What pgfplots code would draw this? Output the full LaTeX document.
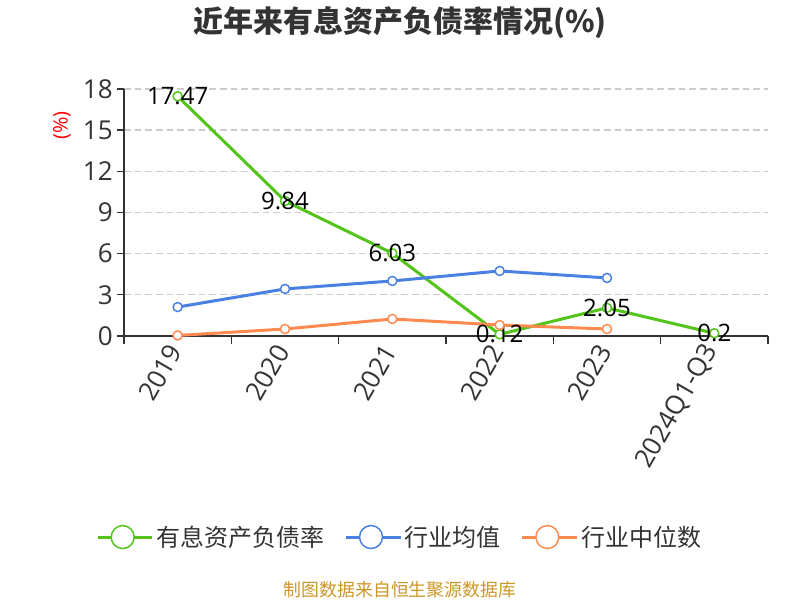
\documentclass[border=0pt]{standalone}
\usepackage{pgfplots}
\pgfplotsset{compat=1.18}
\usepackage{fontspec}
\setmainfont{Open Sans}
\newfontfamily\cjk{Noto Sans CJK SC}
\definecolor{cgreen}{RGB}{82,196,26}
\definecolor{cblue}{RGB}{74,128,226}
\definecolor{corange}{RGB}{255,138,80}
\definecolor{ctext}{RGB}{51,51,51}
\definecolor{cfoot}{RGB}{204,150,40}
\begin{document}
\begin{tikzpicture}
\useasboundingbox (0,0) rectangle (600pt,450pt);
\node[font=\cjk\bfseries\fontsize{22.5}{22.5}\selectfont, text=ctext] at (300pt,433pt) {近年来有息资产负债率情况(\%)};
\node[font=\fontsize{15}{15}\selectfont, text=red, rotate=90] at (46.5pt,356pt) {(\%)};
\node[font=\cjk\fontsize{13.4}{13.4}\selectfont, text=cfoot] at (300pt,7.5pt) {制图数据来自恒生聚源数据库};
\begin{axis}[
  at={(93pt,198pt)}, anchor=south west,
  scale only axis, width=483pt, height=185.25pt,
  xmin=-0.5, xmax=5.5, ymin=0, ymax=18,
  clip=false,
  axis lines=left,
  axis line style={-, draw=ctext, line width=1.1pt},
  xtick={0,...,5},
  xticklabels={2019,2020,2021,2022,2023,2024Q1-Q3},
  minor xtick={-0.5,0.5,...,5.5},
  xtick style={draw=none},
  minor x tick style={draw=ctext, line width=1pt},
  minor tick length=6pt,
  ytick={0,3,...,18},
  y tick style={draw=ctext, line width=1pt},
  major tick length=5pt,
  tick align=outside,
  ymajorgrids,
  major grid style={dash pattern=on 5pt off 3pt, draw=black!20, line width=1pt},
  /pgf/number format/assume math mode=true,
  ticklabel style={font=\fontsize{19.5}{19.5}\selectfont, text=ctext},
  xticklabel style={rotate=60, anchor=east},
  legend style={at={(axis description cs:0.4286,-0.814)}, anchor=center, draw=none, fill=none,
    legend columns=3, font=\cjk\fontsize{18}{18}\selectfont, text=ctext,
    /tikz/every even column/.append style={column sep=13pt}},
  legend cell align=left,
]
\addplot[cgreen, line width=2.25pt, mark=*, mark size=3.4pt,
  mark options={fill=white, draw=cgreen, line width=1.1pt},
  legend image code/.code={\path (0pt,0pt)--(41pt,0pt); \draw[cgreen, line width=1.1pt] (0pt,0pt)--(37.5pt,0pt); \draw[cgreen, line width=1.1pt, fill=white] (18.75pt,0pt) circle (8.6pt);},
  nodes near coords, point meta=explicit symbolic,
  every node near coord/.append style={anchor=center, font=\fontsize{18}{18}\selectfont, text=black}]
  coordinates {(0,17.47)[17.47] (1,9.84)[9.84] (2,6.03)[6.03] (3,0.12)[0.12] (4,2.05)[2.05] (5,0.2)[0.2]};
\addlegendentry{有息资产负债率}
\addplot[cblue, line width=2.25pt, mark=*, mark size=3.4pt,
  mark options={fill=white, draw=cblue, line width=1.1pt},
  legend image code/.code={\path (0pt,0pt)--(41pt,0pt); \draw[cblue, line width=1.1pt] (0pt,0pt)--(37.5pt,0pt); \draw[cblue, line width=1.1pt, fill=white] (18.75pt,0pt) circle (8.6pt);}]
  coordinates {(0,2.11) (1,3.43) (2,4.01) (3,4.74) (4,4.23)};
\addlegendentry{行业均值}
\addplot[corange, line width=2.25pt, mark=*, mark size=3.4pt,
  mark options={fill=white, draw=corange, line width=1.1pt},
  legend image code/.code={\path (0pt,0pt)--(41pt,0pt); \draw[corange, line width=1.1pt] (0pt,0pt)--(37.5pt,0pt); \draw[corange, line width=1.1pt, fill=white] (18.75pt,0pt) circle (8.6pt);}]
  coordinates {(0,0.04) (1,0.51) (2,1.24) (3,0.8) (4,0.51)};
\addlegendentry{行业中位数}
\end{axis}
\end{tikzpicture}
\end{document}
